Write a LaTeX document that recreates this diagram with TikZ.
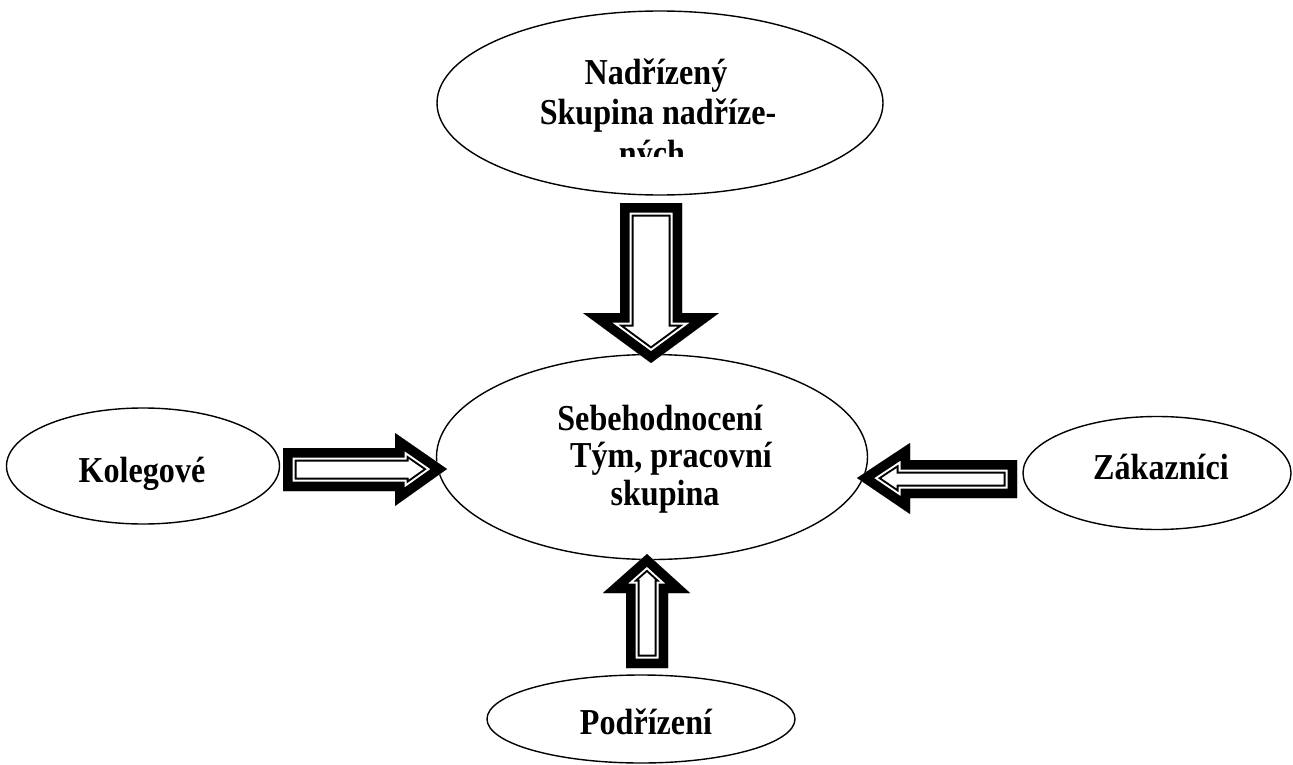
\documentclass[tikz,border=0pt]{standalone}
\usepackage{fontspec}
\setmainfont{Liberation Serif}
\newfontfamily\lblfont[FakeStretch=0.88]{Liberation Serif}
\usetikzlibrary{shapes.geometric}
\tikzset{
  oval/.style={ellipse, draw, line width=1.4pt, fill=white, inner sep=0pt},
  lbl/.style={anchor=base, inner sep=0pt, font=\lblfont\bfseries\fontsize{36.5}{40}\selectfont},
}
% compound block arrow: thick outer band, thin inner line
\newcommand\blockarr[1]{%
  \begin{scope}
    \clip #1 -- cycle;
    \fill[white] #1 -- cycle;
    \draw[line width=27pt, black, line join=miter] #1 -- cycle;
    \draw[line width=23pt, white, line join=miter] #1 -- cycle;
    \draw[line width=19pt, black, line join=miter] #1 -- cycle;
  \end{scope}}
\begin{document}
\begin{tikzpicture}[x=1pt, y=-1pt]
\useasboundingbox (0,0) rectangle (1293,765);
\fill[white] (0,0) rectangle (1293,765);

% ellipses
\node[oval, minimum width=446pt, minimum height=184pt] (sup) at (660,103) {};
\node[oval, minimum width=431pt, minimum height=205pt] (mid) at (652,457) {};
\node[oval, minimum width=273pt, minimum height=116pt] (kol) at (143,466) {};
\node[oval, minimum width=268pt, minimum height=113pt] (zak) at (1157,473) {};
\node[oval, minimum width=308pt, minimum height=88pt] (pod) at (641,719) {};

% texts
\node[lbl] (supA) at (656,85) {Nadřízený};
\node[lbl] (supB) at (658,125) {Skupina nadříze-};
\begin{scope}
  \clip (500,0) rectangle (820,157);
  \node[lbl] (supC) at (652,165) {ných};
\end{scope}
\node[lbl] (midA) at (660,430) {Sebehodnocení};
\node[lbl] (midB) at (667,467) {\ Tým, pracovní};
\node[lbl] (midC) at (665,505) {skupina};
\node[lbl] (kolt) at (142,482) {Kolegové};
\node[lbl] (zakt) at (1161,479) {Zákazníci};
\node[lbl] (podt) at (646,734) {Podřízení};

% block arrows
% from superior (down)
\blockarr{(620,203) -- (682,203) -- (682,313) -- (719,313) -- (651,363) -- (583,313) -- (620,313)}
% from colleagues (right)
\blockarr{(283,448) -- (395,448) -- (395,433) -- (447,469) -- (395,506) -- (395,491) -- (283,491)}
% from customers (left)
\blockarr{(1017,460) -- (910,460) -- (910,443) -- (857,478) -- (910,514) -- (910,498) -- (1017,498)}
% from subordinates (up)
\blockarr{(626,668) -- (626,593) -- (603,593) -- (647,554) -- (690,593) -- (668,593) -- (668,668)}
\end{tikzpicture}
\end{document}
